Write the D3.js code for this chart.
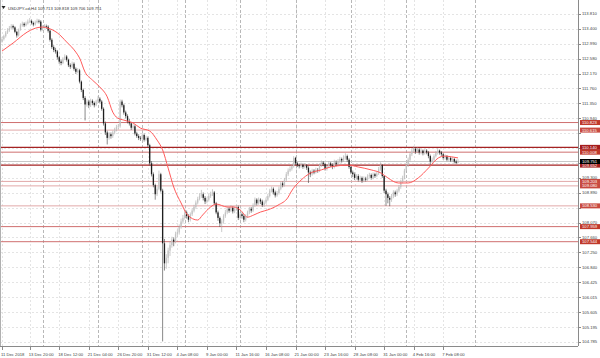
<!DOCTYPE html>
<html><head><meta charset="utf-8">
<script src="https://cdn.jsdelivr.net/npm/d3@7"></script>
<style>html,body{margin:0;padding:0;background:#fff;overflow:hidden}svg{display:block}</style>
</head><body>
<script>
// ---------- DATA ----------
const symbolTitle = "USDJPY-cd,H4 109.713 109.818 109.706 109.751";
const firstOpen = 113.05;
const closes = [
113.12,113.20,113.30,113.36,113.42,113.48,113.44,113.32,113.22,113.38,
113.50,113.54,113.50,113.55,113.60,113.62,113.56,113.52,113.58,113.62,
113.60,113.38,113.45,113.48,113.46,113.35,113.10,112.90,112.82,112.78,
112.62,112.50,112.46,112.58,112.64,112.55,112.40,112.36,112.44,112.30,
112.22,112.26,111.95,111.72,111.50,111.32,111.40,111.30,111.42,111.36,
111.30,111.40,111.48,111.40,111.20,110.80,110.55,110.40,110.50,110.45,
110.55,110.62,110.70,110.72,111.40,111.30,111.10,111.00,110.85,110.80,
110.68,110.72,110.52,110.45,110.40,110.38,110.48,110.35,110.40,110.20,
109.70,109.40,109.10,108.85,109.00,109.40,108.95,107.50,106.95,107.10,
107.30,107.45,107.60,107.55,107.75,107.80,107.95,108.10,108.20,108.35,
108.25,108.15,108.30,108.40,108.50,108.62,108.72,108.80,108.85,108.75,
108.65,108.70,108.80,108.85,108.90,108.60,108.35,108.20,108.05,108.10,
108.25,108.35,108.45,108.40,108.48,108.38,108.45,108.50,108.20,108.30,
108.25,108.15,108.25,108.35,108.45,108.40,108.55,108.70,108.60,108.70,
108.65,108.55,108.62,108.70,108.80,108.95,109.00,108.90,108.82,108.88,
109.00,109.15,109.10,109.25,109.40,109.50,109.55,109.62,109.85,109.70,
109.65,109.62,109.66,109.60,109.64,109.58,109.45,109.40,109.50,109.45,
109.52,109.50,109.65,109.72,109.68,109.55,109.62,109.70,109.65,109.60,
109.72,109.68,109.75,109.82,109.78,109.85,109.90,109.80,109.60,109.45,
109.40,109.30,109.35,109.25,109.30,109.22,109.28,109.25,109.35,109.38,
109.30,109.40,109.35,109.42,109.55,109.65,109.35,108.95,108.85,108.75,
108.70,108.80,108.90,108.85,108.95,109.05,109.20,109.30,109.50,109.65,
109.80,109.95,110.05,110.10,110.02,110.08,110.00,110.05,109.98,110.05,
110.00,109.90,109.75,109.80,109.90,109.98,110.05,110.00,109.95,109.85,
109.90,109.80,109.85,109.78,109.82,109.75,109.713,109.751];
const highs = [
113.18,113.24,113.34,113.42,113.48,113.53,113.52,113.47,113.35,113.41,
113.55,113.60,113.58,113.60,113.66,113.70,113.66,113.60,113.63,113.68,
113.66,113.64,113.50,113.53,113.52,113.50,113.39,113.14,112.95,112.88,
112.82,112.66,112.55,112.62,112.70,112.68,112.58,112.45,112.50,112.48,
112.34,112.32,112.30,111.98,111.76,111.55,111.46,111.45,111.48,111.46,
111.40,111.45,111.55,111.52,111.44,111.24,110.85,110.60,110.56,110.55,
110.60,110.68,110.76,110.78,111.46,111.45,111.34,111.15,111.05,110.92,
110.84,110.78,110.76,110.57,110.50,110.45,110.53,110.52,110.46,110.44,
110.24,109.76,109.45,109.14,109.06,109.50,109.44,109.00,107.62,107.20,
107.38,107.55,107.68,107.66,107.82,107.88,108.02,108.18,108.28,108.44,
108.40,108.30,108.35,108.46,108.56,108.68,108.78,108.88,108.97,108.90,
108.80,108.76,108.86,108.92,108.99,108.94,108.64,108.40,108.24,108.16,
108.30,108.42,108.52,108.50,108.55,108.52,108.50,108.56,108.54,108.36,
108.35,108.30,108.30,108.40,108.50,108.50,108.60,108.76,108.74,108.76,
108.74,108.70,108.68,108.76,108.86,109.00,109.06,109.04,108.95,108.94,
109.06,109.20,109.20,109.30,109.46,109.56,109.62,109.68,109.90,109.88,
109.74,109.70,109.72,109.70,109.70,109.68,109.62,109.50,109.55,109.54,
109.58,109.57,109.70,109.78,109.76,109.72,109.68,109.76,109.74,109.70,
109.80,109.78,109.82,109.88,109.86,109.92,109.98,109.94,109.84,109.64,
109.50,109.45,109.40,109.40,109.36,109.34,109.34,109.33,109.40,109.44,
109.42,109.45,109.44,109.48,109.60,109.73,109.68,109.38,109.00,108.90,
108.80,108.86,108.96,108.95,109.00,109.10,109.25,109.36,109.55,109.70,
109.86,110.00,110.12,110.18,110.14,110.14,110.12,110.10,110.08,110.10,
110.09,110.04,109.94,109.86,109.95,110.04,110.12,110.08,110.04,109.98,
109.95,109.93,109.90,109.88,109.87,109.85,109.80,109.818];
const lows = [
113.02,113.08,113.16,113.26,113.32,113.38,113.40,113.28,113.16,113.19,
113.35,113.46,113.45,113.47,113.52,113.56,113.52,113.47,113.49,113.55,
113.55,113.33,113.35,113.41,113.40,113.30,113.05,112.85,112.76,112.72,
112.56,112.44,112.40,112.43,112.54,112.50,112.35,112.30,112.32,112.25,
112.16,112.18,111.90,111.66,111.44,110.88,111.26,111.22,111.25,111.30,
111.24,111.27,111.36,111.35,111.15,110.74,110.48,110.22,110.35,110.38,
110.40,110.50,110.58,110.64,110.68,111.24,111.04,110.94,110.80,110.74,
110.62,110.63,110.47,110.40,110.34,110.32,110.34,110.30,110.31,110.14,
109.64,109.34,109.04,108.70,108.80,108.96,108.90,104.80,106.75,106.80,
106.95,107.15,107.38,107.42,107.50,107.68,107.74,107.90,108.04,108.15,
108.18,108.08,108.10,108.25,108.35,108.45,108.57,108.68,108.75,108.68,
108.58,108.60,108.65,108.75,108.80,108.55,108.30,108.12,107.95,107.81,
108.04,108.20,108.30,108.34,108.36,108.32,108.33,108.40,108.14,108.15,
108.18,108.08,108.10,108.20,108.30,108.34,108.36,108.50,108.54,108.56,
108.58,108.50,108.50,108.58,108.66,108.76,108.90,108.84,108.76,108.78,
108.84,108.96,109.04,109.06,109.20,109.35,109.46,109.50,109.58,109.65,
109.60,109.56,109.58,109.55,109.56,109.52,109.16,109.32,109.36,109.40,
109.42,109.44,109.46,109.60,109.62,109.50,109.50,109.58,109.60,109.54,
109.56,109.62,109.64,109.70,109.72,109.74,109.80,109.74,109.55,109.40,
109.32,109.24,109.25,109.20,109.20,109.16,109.18,109.20,109.22,109.30,
109.25,109.26,109.30,109.32,109.38,109.50,109.30,108.88,108.53,108.60,
108.52,108.64,108.74,108.78,108.80,108.90,109.00,109.15,109.26,109.45,
109.60,109.75,109.90,110.00,109.96,109.98,109.94,109.95,109.92,109.94,
109.95,109.84,109.66,109.70,109.76,109.86,109.94,109.94,109.90,109.80,
109.80,109.76,109.76,109.74,109.74,109.70,109.68,109.706];

// moving average (traced) : bar index and value
const maIdx = [0,6,13.6,17,22,25,30,35,40,42,45,49,53,57,60,62.5,66,71,75,80,84,87,90,93,97,100.5,106,108.7,113,116,122,125.5,129,133,136.4,140,144,149.5,155,156.5,162,167,173,178,187.5,193,200,205.4,209,214.7,220,225.5,231,236.4,239.7,243.5,247];
const maVal = [112.79,113.01,113.31,113.40,113.45,113.42,113.29,113.04,112.76,112.60,112.21,111.99,111.80,111.53,111.11,110.95,110.89,110.81,110.67,110.59,110.34,110.07,109.57,109.05,108.61,108.28,108.14,108.28,108.50,108.58,108.50,108.50,108.42,108.22,108.28,108.36,108.42,108.55,108.77,108.91,109.24,109.43,109.52,109.60,109.65,109.60,109.52,109.43,109.30,109.16,109.16,109.30,109.57,109.85,109.90,109.88,109.85];

// price axis labels
const priceTicks = ["113.810","113.400","112.990","112.580","112.170","111.760","111.350","110.940","110.530","110.120","109.710","109.300","108.890","108.480","108.070","107.660","107.250","106.840","106.425","106.015","105.605","105.195","104.785"];
// time axis labels and their bar indexes
const timeLabels = ["11 Dec 2018","13 Dec 20:00","18 Dec 12:00","21 Dec 04:00","26 Dec 20:00","31 Dec 12:00","4 Jan 08:00","9 Jan 00:00","11 Jan 16:00","16 Jan 08:00","21 Jan 00:00","23 Jan 16:00","28 Jan 08:00","31 Jan 00:00","4 Feb 16:00","7 Feb 08:00"];
const timeLabelIdx = [0,15,31,47,63,79,95,111,127,143,159,175,191,207,223,239];
// period separators (bar indexes)
const separatorIdx = [22,52,76,99,129,159,189,219,256];
// horizontal levels
const levelPrices = [110.823,110.615,110.140,110.008,109.652,109.203,109.080,108.530,107.959,107.544];
const levelKinds  = ["m","l","s","m","s","l","l","l","m","m"];
const bidPrice = 109.751;

// ---------- STYLE ----------
const W = 600, H = 358;
const plotL = 0, plotR = 578, plotT = 0, plotB = 346;
const FONT = "'Liberation Sans', Arial, sans-serif";
const FS = 4.2;
const lineColor = {s:"#a52323", m:"#cf6f6f", l:"#e2a9a9"};
const lineWidth = {s:1.3, m:1, l:1};
const boxColor = {s:"#a51c1c", m:"#c0392b", l:"#c84a40"};

const svg = d3.select("body").append("svg").attr("width", W).attr("height", H);

const x = d3.scaleLinear().domain([0, closes.length - 1]).range([2, 458]);
const y = d3.scaleLinear().domain([104.674, 114.195]).range([plotB, plotT]);

const bars = closes.map((c, i) => ({
  i, o: i === 0 ? firstOpen : closes[i - 1], h: highs[i], l: lows[i], c
}));

// grid
const g = svg.append("g");
g.selectAll("line.hg").data(priceTicks).join("line")
  .attr("x1", plotL).attr("x2", plotR)
  .attr("y1", d => Math.round(y(+d)) + 0.5).attr("y2", d => Math.round(y(+d)) + 0.5)
  .attr("stroke", "#e4e4e4").attr("stroke-width", 1).attr("stroke-dasharray", "2,2");
g.selectAll("line.vg").data(timeLabelIdx).join("line")
  .attr("x1", d => Math.round(x(d)) + 0.5).attr("x2", d => Math.round(x(d)) + 0.5)
  .attr("y1", plotT).attr("y2", plotB)
  .attr("stroke", "#e4e4e4").attr("stroke-width", 1).attr("stroke-dasharray", "2,2");
g.selectAll("line.ws").data(separatorIdx).join("line")
  .attr("x1", d => Math.round(x(d)) + 0.5).attr("x2", d => Math.round(x(d)) + 0.5)
  .attr("y1", plotT).attr("y2", plotB)
  .attr("stroke", "#b8b8b8").attr("stroke-width", 1).attr("stroke-dasharray", "3,2");

// levels
svg.append("g").selectAll("line").data(levelPrices).join("line")
  .attr("x1", plotL).attr("x2", plotR)
  .attr("y1", d => y(d)).attr("y2", d => y(d))
  .attr("stroke", (d, i) => lineColor[levelKinds[i]])
  .attr("stroke-width", (d, i) => lineWidth[levelKinds[i]]);
// bid line
svg.append("line").attr("x1", plotL).attr("x2", plotR)
  .attr("y1", y(bidPrice)).attr("y2", y(bidPrice))
  .attr("stroke", "#c8c8c8").attr("stroke-width", 1);

// candles
const cg = svg.append("g");
const bw = 1.3;
cg.selectAll("line").data(bars).join("line")
  .attr("x1", d => x(d.i)).attr("x2", d => x(d.i))
  .attr("y1", d => y(d.h)).attr("y2", d => y(d.l))
  .attr("stroke", d => d.c >= d.o ? "#a8a8a8" : "#3a3a3a")
  .attr("stroke-width", 0.6);
cg.selectAll("rect").data(bars).join("rect")
  .attr("x", d => x(d.i) - bw / 2).attr("width", bw)
  .attr("y", d => y(Math.max(d.o, d.c)))
  .attr("height", d => Math.max(0.7, Math.abs(y(d.o) - y(d.c))))
  .attr("fill", d => d.c >= d.o ? "#c4c4c4" : "#1e1e1e");

// moving average
svg.append("path")
  .datum(maIdx.map((d, k) => [d, maVal[k]]))
  .attr("fill", "none").attr("stroke", "#ff5a5a").attr("stroke-width", 1)
  .attr("d", d3.line().x(d => x(d[0])).y(d => y(d[1])).curve(d3.curveMonotoneX));

// frame
svg.append("line").attr("x1", plotR + 0.5).attr("x2", plotR + 0.5).attr("y1", plotT).attr("y2", plotB).attr("stroke", "#8a8a8a");
svg.append("line").attr("x1", plotL).attr("x2", plotR).attr("y1", plotB + 0.5).attr("y2", plotB + 0.5).attr("stroke", "#8a8a8a");
svg.append("line").attr("x1", 0.5).attr("x2", 0.5).attr("y1", plotT).attr("y2", plotB).attr("stroke", "#b0b0b0");

// right axis (plain labels hidden where a level label sits on top, as in the terminal)
const labelled = levelPrices.concat([bidPrice]);
const shownTicks = priceTicks.filter(t => labelled.every(p => Math.abs(p - +t) > 0.09));
const ra = svg.append("g");
ra.selectAll("line").data(priceTicks).join("line")
  .attr("x1", plotR).attr("x2", plotR + 3)
  .attr("y1", d => Math.round(y(+d)) + 0.5).attr("y2", d => Math.round(y(+d)) + 0.5)
  .attr("stroke", "#8a8a8a");
ra.selectAll("text").data(shownTicks).join("text")
  .attr("x", plotR + 4).attr("y", d => y(+d) + 1.5)
  .attr("font-family", FONT).attr("font-size", FS).attr("fill", "#444")
  .text(d => d);

// level labels
const lg = svg.append("g");
const bh = 5;
levelPrices.forEach((p, i) => {
  lg.append("rect").attr("x", plotR + 2).attr("y", y(p) - bh / 2).attr("width", 21).attr("height", bh)
    .attr("fill", boxColor[levelKinds[i]]);
  lg.append("text").attr("x", plotR + 4).attr("y", y(p) + 1.5)
    .attr("font-family", FONT).attr("font-size", FS).attr("fill", "#fff")
    .text(p.toFixed(3));
});
lg.append("rect").attr("x", plotR + 2).attr("y", y(bidPrice) - bh / 2).attr("width", 21).attr("height", bh).attr("fill", "#000");
lg.append("text").attr("x", plotR + 4).attr("y", y(bidPrice) + 1.5)
  .attr("font-family", FONT).attr("font-size", FS).attr("fill", "#fff").text(bidPrice.toFixed(3));

// bottom axis
const ba = svg.append("g");
ba.selectAll("line").data(timeLabelIdx).join("line")
  .attr("x1", d => Math.round(x(d)) + 0.5).attr("x2", d => Math.round(x(d)) + 0.5)
  .attr("y1", plotB).attr("y2", plotB + 4).attr("stroke", "#8a8a8a");
ba.selectAll("text").data(timeLabels).join("text")
  .attr("x", (d, k) => x(timeLabelIdx[k]) - 1).attr("y", 356)
  .attr("font-family", FONT).attr("font-size", FS).attr("fill", "#444")
  .text(d => d);

// header
svg.append("path").attr("d", "M1.5,6 L5.5,6 L3.5,9 Z").attr("fill", "#222");
svg.append("text").attr("x", 8).attr("y", 10)
  .attr("font-family", FONT).attr("font-size", FS).attr("fill", "#333").text(symbolTitle);
</script>
</body></html>
